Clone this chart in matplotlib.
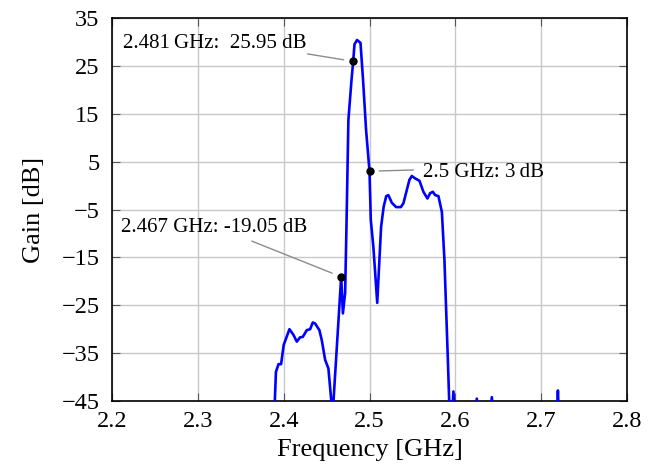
import matplotlib
matplotlib.use("Agg")
import matplotlib.pyplot as plt

plt.rcParams['font.family'] = ['Liberation Serif', 'DejaVu Serif']

# Frequenz [GHz] und Verstärkung [dB]
freq = [2.200, 2.389, 2.391, 2.394, 2.397, 2.400, 2.4067, 2.4114, 2.4153, 2.4191,
        2.4223, 2.4269, 2.4308, 2.4339, 2.4366, 2.4416, 2.4444, 2.4483, 2.4521, 2.457,
        2.467, 2.469, 2.4716, 2.473, 2.4754, 2.479, 2.481, 2.4825, 2.4855, 2.4895,
        2.4925, 2.496, 2.500, 2.5015, 2.5045, 2.509, 2.5135, 2.5165, 2.5195, 2.522,
        2.526, 2.531, 2.5365, 2.5395, 2.5435, 2.5465, 2.5493, 2.5531, 2.5582, 2.5628,
        2.5675, 2.5706, 2.5738, 2.5765, 2.5803, 2.5843, 2.5873, 2.5893, 2.5913, 2.5928,
        2.595, 2.5978, 2.600, 2.623, 2.625, 2.627, 2.6405, 2.6425, 2.6445, 2.718,
        2.7195, 2.721, 2.800]
gain = [-46.0, -48.0, -38.9, -37.3, -37.3, -33.3, -30.0, -31.2, -32.6, -31.7,
        -31.6, -30.2, -30.0, -28.6, -28.8, -30.2, -32.3, -36.4, -38.2, -48.0,
        -19.05, -26.7, -22.4, -10.0, 13.7, 22.0, 25.95, 29.5, 30.4, 29.8,
        22.0, 11.6, 3.0, -7.2, -12.8, -24.5, -8.6, -4.4, -2.2, -2.0,
        -3.6, -4.5, -4.5, -3.7, -0.9, 1.2, 2.0, 1.5, 1.0, -1.3,
        -2.7, -1.6, -1.3, -2.0, -2.2, -5.5, -15.5, -26.0, -36.4, -44.8,
        -52.0, -43.0, -52.0, -48.0, -44.5, -48.0, -48.0, -44.2, -48.0, -50.0,
        -42.8, -50.0, -50.0]

# markierte Punkte: Frequenz, Gain, Text, Textposition, Linienanfang
mark_f = [2.481, 2.5, 2.467]
mark_g = [25.95, 3.0, -19.05]
mark_txt = ['2.481\u2009GHz:  25.95 dB', '2.5 GHz: 3\u2009dB', '2.467 GHz: -19.05 dB']
txt_pos = [(2.2128, 28.7), (2.5627, 1.85), (2.2101, -9.6)]
line_start = [(2.4276, 27.5), (2.5511, 3.25), (2.3628, -11.6)]

fig = plt.figure(figsize=(6.54, 4.71), dpi=100)
ax = fig.add_axes([0.1713, 0.1486, 0.7874, 0.8132])

ax.plot(freq, gain, color='#0000ff', lw=1.9, zorder=3)
ax.plot(mark_f, mark_g, 'o', color='black', ms=5, zorder=4)

for f, g, t, tp, ls in zip(mark_f, mark_g, mark_txt, txt_pos, line_start):
    ax.annotate('', xy=(f, g), xytext=ls,
                arrowprops=dict(arrowstyle='-', color='#8c8c8c', lw=1.0,
                                shrinkA=0, shrinkB=7))
    ax.text(tp[0], tp[1], t, fontsize=15, ha='left', va='baseline', zorder=5)

ax.set_xlim(2.2, 2.8)
ax.set_ylim(-45, 35)
ax.set_xticks([2.2, 2.3, 2.4, 2.5, 2.6, 2.7, 2.8])
ax.set_yticks(range(-45, 36, 10))
ax.grid(True, color='#c8c8c8', lw=1.0)
ax.set_axisbelow(True)
ax.tick_params(direction='in', top=True, right=True, length=6, width=0.8,
               color='#555555', labelsize=17.5)
ax.tick_params(axis='x', pad=7)
ax.tick_params(axis='y', pad=9)
for s in ax.spines.values():
    s.set_linewidth(1.2)

ax.set_xlabel('Frequency [GHz]', fontsize=19, labelpad=5)
ax.set_ylabel('Gain [dB]', fontsize=19, labelpad=12)

fig.savefig('out.png', dpi=100)
